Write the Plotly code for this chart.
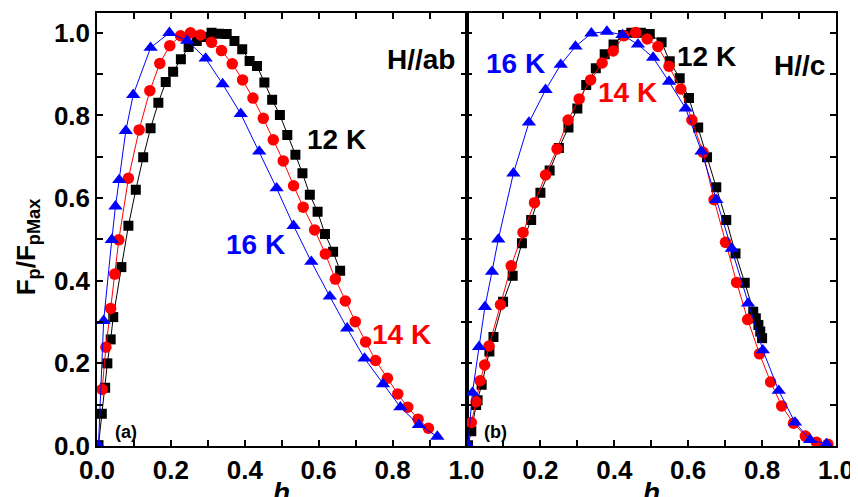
import plotly.graph_objects as go
from plotly.subplots import make_subplots

# ---------------- data: panel (a) H//ab ----------------
a12_h = [0.004, 0.013, 0.022, 0.028, 0.037, 0.044, 0.066, 0.085, 0.105, 0.125, 0.145, 0.166, 0.186,
         0.206, 0.227, 0.248, 0.270, 0.290, 0.310, 0.330, 0.351, 0.372, 0.393, 0.413, 0.433, 0.453,
         0.474, 0.495, 0.515, 0.537, 0.556, 0.576, 0.597, 0.617, 0.639, 0.658]
a12_f = [0.002, 0.078, 0.141, 0.200, 0.258, 0.312, 0.433, 0.533, 0.620, 0.699, 0.769, 0.831, 0.881,
         0.906, 0.936, 0.966, 0.980, 0.990, 1.000, 0.998, 0.997, 0.980, 0.960, 0.932, 0.920, 0.880,
         0.838, 0.801, 0.753, 0.705, 0.660, 0.608, 0.567, 0.513, 0.470, 0.424]

a14_h = [0.014, 0.024, 0.037, 0.048, 0.059, 0.085, 0.114, 0.143, 0.170, 0.197, 0.226, 0.253, 0.280,
         0.310, 0.337, 0.366, 0.394, 0.422, 0.450, 0.477, 0.504, 0.532, 0.558, 0.589, 0.618, 0.645,
         0.672, 0.699, 0.727, 0.754, 0.786, 0.814, 0.841, 0.869, 0.897]
a14_f = [0.137, 0.239, 0.333, 0.416, 0.499, 0.648, 0.765, 0.860, 0.926, 0.969, 0.993, 1.000, 0.995,
         0.977, 0.957, 0.925, 0.886, 0.842, 0.793, 0.741, 0.690, 0.630, 0.578, 0.523, 0.465, 0.404,
         0.351, 0.301, 0.252, 0.207, 0.164, 0.126, 0.094, 0.065, 0.043]

a16_h = [0.004, 0.018, 0.040, 0.050, 0.060, 0.078, 0.098, 0.145, 0.196, 0.244, 0.294, 0.340, 0.389,
         0.439, 0.486, 0.532, 0.580, 0.630, 0.677, 0.724, 0.774, 0.821, 0.871, 0.921]
a16_f = [0.002, 0.303, 0.499, 0.580, 0.644, 0.763, 0.850, 0.964, 1.000, 0.981, 0.938, 0.876, 0.804,
         0.713, 0.624, 0.533, 0.446, 0.362, 0.285, 0.212, 0.150, 0.094, 0.051, 0.023]

# ---------------- data: panel (b) H//c ----------------
b12_h = [0.004, 0.013, 0.026, 0.030, 0.041, 0.062, 0.073, 0.099, 0.125, 0.150, 0.175, 0.200, 0.225,
         0.250, 0.276, 0.300, 0.324, 0.350, 0.374, 0.398, 0.424, 0.446, 0.472, 0.496, 0.528, 0.550,
         0.577, 0.602, 0.627, 0.651, 0.676, 0.703, 0.728, 0.753, 0.776, 0.783, 0.790, 0.795, 0.800]
b12_f = [0.002, 0.036, 0.099, 0.111, 0.148, 0.229, 0.264, 0.349, 0.412, 0.491, 0.547, 0.613, 0.667,
         0.721, 0.771, 0.817, 0.874, 0.914, 0.948, 0.972, 0.995, 1.000, 1.000, 0.997, 0.977, 0.931,
         0.890, 0.842, 0.771, 0.699, 0.626, 0.547, 0.466, 0.395, 0.325, 0.309, 0.293, 0.277, 0.261]

b14_h = [0.013, 0.026, 0.037, 0.049, 0.061, 0.092, 0.121, 0.153, 0.184, 0.214, 0.245, 0.275, 0.305,
         0.336, 0.367, 0.397, 0.426, 0.458, 0.489, 0.518, 0.548, 0.580, 0.610, 0.640, 0.670, 0.701,
         0.731, 0.761, 0.793, 0.823, 0.853, 0.885, 0.917, 0.947, 0.978]
b14_f = [0.057, 0.107, 0.158, 0.196, 0.242, 0.342, 0.436, 0.517, 0.589, 0.656, 0.719, 0.789, 0.840,
         0.886, 0.927, 0.956, 0.993, 1.001, 0.985, 0.967, 0.919, 0.864, 0.789, 0.711, 0.596, 0.493,
         0.396, 0.306, 0.223, 0.155, 0.097, 0.055, 0.024, 0.009, 0.004]

b16_h = [0.004, 0.016, 0.034, 0.050, 0.069, 0.086, 0.127, 0.169, 0.214, 0.255, 0.295, 0.338, 0.380,
         0.422, 0.464, 0.505, 0.548, 0.593, 0.636, 0.676, 0.718, 0.762, 0.802, 0.845, 0.889, 0.930, 0.974]
b16_f = [0.002, 0.129, 0.240, 0.337, 0.422, 0.500, 0.660, 0.783, 0.862, 0.923, 0.967, 0.999, 1.003,
         0.995, 0.972, 0.940, 0.882, 0.817, 0.713, 0.596, 0.478, 0.345, 0.232, 0.134, 0.057, 0.015, 0.005]

x_ticks_a = [0.0, 0.2, 0.4, 0.6, 0.8, 1.0]
x_ticks_b = [0.2, 0.4, 0.6, 0.8, 1.0]
y_ticks = [0.0, 0.2, 0.4, 0.6, 0.8, 1.0]

BLACK, RED, BLUE = "#000000", "#ff0000", "#0000ff"
FONT = "Liberation Sans, Arial, sans-serif"

fig = make_subplots(rows=1, cols=2, shared_yaxes=True, horizontal_spacing=0)


def add_series(h, f, color, symbol, size, col):
    fig.add_trace(go.Scatter(x=h, y=f, mode="lines+markers",
                             line=dict(color=color, width=1),
                             marker=dict(color=color, symbol=symbol, size=size, line=dict(width=0)),
                             showlegend=False), row=1, col=col)


add_series(a12_h, a12_f, BLACK, "square", 10, 1)
add_series(a14_h, a14_f, RED, "circle", 11.5, 1)
add_series(a16_h, a16_f, BLUE, "triangle-up", 12.5, 1)
add_series(b12_h, b12_f, BLACK, "square", 10, 2)
add_series(b14_h, b14_f, RED, "circle", 11.5, 2)
add_series(b16_h, b16_f, BLUE, "triangle-up", 12.5, 2)

tickfont = dict(family=FONT, size=26, color="black", weight=700)
axis_common = dict(showline=True, linecolor="black", linewidth=1.5, mirror="ticks",
                   ticks="inside", ticklen=6, tickwidth=1.5, tickcolor="black",
                   showgrid=False, zeroline=False, tickfont=tickfont, automargin=False,
                   minor=dict(ticks="inside", ticklen=6, tickwidth=1.5, tickcolor="black", dtick=0.1))

fig.update_xaxes(range=[0, 1.0], tickvals=x_ticks_a, ticktext=[f"{v:.1f}" for v in x_ticks_a],
                 row=1, col=1, **axis_common)
fig.update_xaxes(range=[0, 1.0], tickvals=x_ticks_b, ticktext=[f"{v:.1f}" for v in x_ticks_b],
                 row=1, col=2, **axis_common)
fig.update_yaxes(range=[0, 1.048], tickvals=y_ticks, ticktext=[f"{v:.1f}" for v in y_ticks],
                 row=1, col=1, **axis_common)
fig.update_yaxes(range=[0, 1.048], tickvals=y_ticks, showticklabels=False,
                 row=1, col=2, **axis_common)


def label(text, x, y, xref, yref, color, size=28, **kw):
    fig.add_annotation(text=text, x=x, y=y, xref=xref, yref=yref, showarrow=False,
                       font=dict(family=FONT, size=size, color=color, weight=700), **kw)


label("H//ab", 0.876, 0.935, "x", "y", BLACK)
label("12 K", 0.649, 0.741, "x", "y", BLACK)
label("16 K", 0.430, 0.487, "x", "y", BLUE)
label("14 K", 0.824, 0.271, "x", "y", RED)
label("(a)", 0.078, 0.034, "x", "y", BLACK, size=18)

label("16 K", 0.133, 0.925, "x2", "y2", BLUE)
label("12 K", 0.650, 0.942, "x2", "y2", BLACK)
label("14 K", 0.436, 0.855, "x2", "y2", RED)
label("H//c", 0.902, 0.922, "x2", "y2", BLACK)
label("(b)", 0.079, 0.034, "x2", "y2", BLACK, size=18)

# axis titles
label("<i>h</i>", 0.5, -0.068, "x domain", "paper", BLACK, size=28, yanchor="top")
label("<i>h</i>", 0.5, -0.068, "x2 domain", "paper", BLACK, size=28, yanchor="top")
label("F<sub>p</sub>/F<sub>pMax</sub>", -0.094, 0.46, "paper", "paper", BLACK, size=26,
      textangle=-90, xanchor="center", yanchor="middle")

# the page body has an 8 px default margin, so the figure is sized to fit the window
fig.update_layout(width=850, height=489, margin=dict(l=89, r=22, t=5, b=51, autoexpand=False),
                  plot_bgcolor="white", paper_bgcolor="white")

fig.write_html("out.html")
